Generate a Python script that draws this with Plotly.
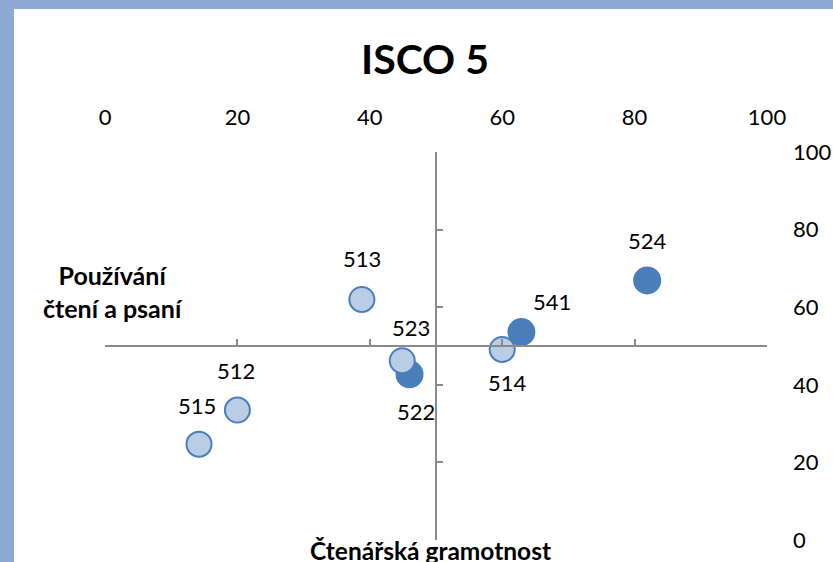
import plotly.graph_objects as go

# ---- data ----
codes = ["515", "512", "513", "514", "522", "523", "541", "524"]
reading_literacy = [14.2, 20.0, 38.8, 60.0, 46.0, 44.9, 62.9, 81.9]
reading_writing_use = [24.7, 33.5, 62.0, 49.1, 42.7, 46.2, 53.6, 66.9]
highlighted = [False, False, False, False, True, False, True, True]
tick_values = [0, 20, 40, 60, 80, 100]
tick_labels = ["0", "20", "40", "60", "80", "100"]

# ---- styling ----
FONT = "Lato, Calibri, 'Liberation Sans', sans-serif"
DARK = "#4A7EBB"
LIGHT = "#B9CDE5"
AXIS = "#8A8A8A"
FRAME = "#8DAAD5"
label_xshift = [-2, -1, 0, 5, 6, 9, 31, 0]
label_yshift = [39, 40, 41, -33, -37, 33, 31, 40]

x_range = [0, 100]
y_range = [0, 100]
cross_x, cross_y = 50, 50

W, H = 833, 562
ML, MR, MT, MB = 105, 66, 152, 22
PW, PH = W - ML - MR, H - MT - MB

def px_to_paper_x(px):
    return (px - ML) / PW

def px_to_paper_y(py):
    return (H - MB - py) / PH

fig = go.Figure()

fig.add_trace(go.Scatter(
    x=reading_literacy, y=reading_writing_use, mode="markers",
    marker=dict(
        size=[26 if h else 25 for h in highlighted],
        color=[DARK if h else LIGHT for h in highlighted],
        line=dict(color=DARK, width=2),
        opacity=1,
    ),
    hoverinfo="skip", showlegend=False, cliponaxis=False,
))

# invisible trace for crossing axes
fig.add_trace(go.Scatter(x=x_range, y=y_range, xaxis="x2", yaxis="y2",
                         mode="markers", marker=dict(opacity=0),
                         hoverinfo="skip", showlegend=False))

for c, xv, yv, dx, dy in zip(codes, reading_literacy, reading_writing_use,
                             label_xshift, label_yshift):
    fig.add_annotation(x=xv, y=yv, xref="x", yref="y", text=c, showarrow=False,
                       xshift=dx, yshift=dy,
                       font=dict(family=FONT, size=22, color="#000000"))

fig.add_annotation(x=px_to_paper_x(113), y=px_to_paper_y(291), xref="paper", yref="paper",
                   text="<b>Používání<br>čtení a psaní</b>", showarrow=False,
                   xanchor="center", yanchor="middle", align="center",
                   font=dict(family=FONT, size=25, color="#000000"))
fig.add_annotation(x=px_to_paper_x(430), y=px_to_paper_y(550), xref="paper", yref="paper",
                   text="<b>Čtenářská gramotnost</b>", showarrow=False,
                   xanchor="center", yanchor="middle",
                   font=dict(family=FONT, size=24.5, color="#000000"))

# frame bands (top and left)
fig.add_shape(type="rect", xref="paper", yref="paper",
              x0=px_to_paper_x(-5), x1=px_to_paper_x(W + 5),
              y0=px_to_paper_y(9), y1=px_to_paper_y(-5),
              fillcolor=FRAME, line=dict(width=0), layer="below")
fig.add_shape(type="rect", xref="paper", yref="paper",
              x0=px_to_paper_x(-5), x1=px_to_paper_x(14),
              y0=px_to_paper_y(H + 5), y1=px_to_paper_y(-5),
              fillcolor=FRAME, line=dict(width=0), layer="below")

fig.update_layout(
    width=W, height=H,
    margin=dict(l=ML, r=MR, t=MT, b=MB, pad=0, autoexpand=False),
    paper_bgcolor="white", plot_bgcolor="white",
    font=dict(family=FONT, size=22, color="#000000"),
    title=dict(text="<b>ISCO 5</b>", x=425 / W, xanchor="center",
               y=1 - 60 / H, yanchor="middle", yref="container",
               font=dict(family=FONT, size=41, color="#000000")),
    xaxis=dict(range=x_range, side="top", tickvals=tick_values, ticktext=tick_labels,
               showline=False, showgrid=False, zeroline=False, ticks="",
               ticklabelstandoff=22, fixedrange=True, automargin=False),
    yaxis=dict(range=y_range, side="right", tickvals=tick_values, ticktext=tick_labels,
               showline=False, showgrid=False, zeroline=False, ticks="",
               ticklabelstandoff=25, fixedrange=True, automargin=False),
    xaxis2=dict(range=x_range, overlaying="x", anchor="free",
                position=(cross_y - y_range[0]) / (y_range[1] - y_range[0]),
                side="bottom", tickvals=tick_values, showticklabels=False,
                ticks="inside", ticklen=6, tickwidth=1.5, tickcolor=AXIS,
                showline=True, linecolor=AXIS, linewidth=1.5,
                showgrid=False, zeroline=False, fixedrange=True, automargin=False),
    yaxis2=dict(range=y_range, overlaying="y", anchor="free",
                position=(cross_x - x_range[0]) / (x_range[1] - x_range[0]),
                side="left", tickvals=tick_values, showticklabels=False,
                ticks="inside", ticklen=6, tickwidth=1.5, tickcolor=AXIS,
                showline=True, linecolor=AXIS, linewidth=1.5,
                showgrid=False, zeroline=False, fixedrange=True, automargin=False),
)

fig.write_html("out.html", config={"displayModeBar": False},
               post_script="document.body.style.margin='0';document.body.style.overflow='hidden';")
